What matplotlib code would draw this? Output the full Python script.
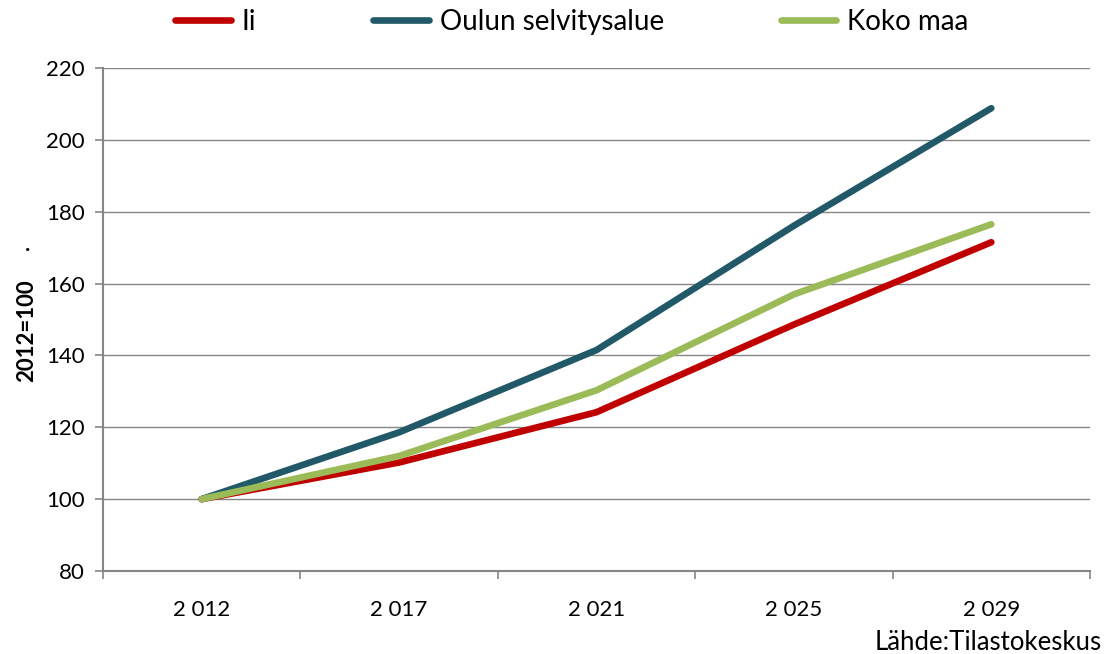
import matplotlib.pyplot as plt
from matplotlib.ticker import MultipleLocator, FixedLocator

plt.rcParams['font.family'] = ['Lato', 'DejaVu Sans']

years = ['2 012', '2 017', '2 021', '2 025', '2 029']
ii = [100, 110.2, 124.2, 148.6, 171.5]
oulu = [100, 118.6, 141.5, 176.1, 208.8]
koko = [100, 112.0, 130.3, 157.0, 176.5]

GRAY = '#868686'

fig = plt.figure(figsize=(11.04, 6.54), dpi=100)
ax = fig.add_axes([103 / 1104, 1 - 571 / 654, 987 / 1104, 503 / 654])

x = list(range(len(years)))
ax.plot(x, ii, color='#C00000', lw=4.8, label='Ii', solid_capstyle='round', solid_joinstyle='round')
ax.plot(x, oulu, color='#215968', lw=4.8, label='Oulun selvitysalue', solid_capstyle='round', solid_joinstyle='round')
ax.plot(x, koko, color='#9BBB59', lw=4.8, label='Koko maa', solid_capstyle='round', solid_joinstyle='round')

ax.set_xlim(-0.5, len(years) - 0.5)
ax.set_ylim(80, 220)
ax.yaxis.set_major_locator(MultipleLocator(20))
ax.grid(axis='y', color=GRAY, lw=1)
ax.set_axisbelow(True)

ax.set_xticks(x)
ax.set_xticklabels(years)
ax.xaxis.set_minor_locator(FixedLocator([i - 0.5 for i in range(len(years) + 1)]))
ax.tick_params(axis='x', which='major', length=0, pad=21, labelsize=16)
ax.tick_params(axis='x', which='minor', length=6, color=GRAY, width=1.2)
ax.tick_params(axis='y', length=6, color=GRAY, width=1.2, pad=7, labelsize=16)

for s in ['top', 'right']:
    ax.spines[s].set_visible(False)
for s in ['left', 'bottom']:
    ax.spines[s].set_color(GRAY)
    ax.spines[s].set_linewidth(1.5)

fig.text(27 / 1104, 1 - 331 / 654, '2012=100', rotation=90, fontsize=16,
         fontweight='bold', ha='center', va='center')
fig.text(28 / 1104, 1 - 244 / 654, '.', fontsize=16, fontweight='bold',
         ha='center', va='center')

fig.legend(loc='center', bbox_to_anchor=(572 / 1104, 1 - 22 / 654), ncol=3, frameon=False,
           fontsize=20, handlelength=2.0, handletextpad=0.4, columnspacing=4.2)

fig.text(1 - 2 / 1104, 1 - 642 / 654, 'Lähde:Tilastokeskus', fontsize=18.5,
         ha='right', va='center')

fig.savefig('out.png', dpi=100)
